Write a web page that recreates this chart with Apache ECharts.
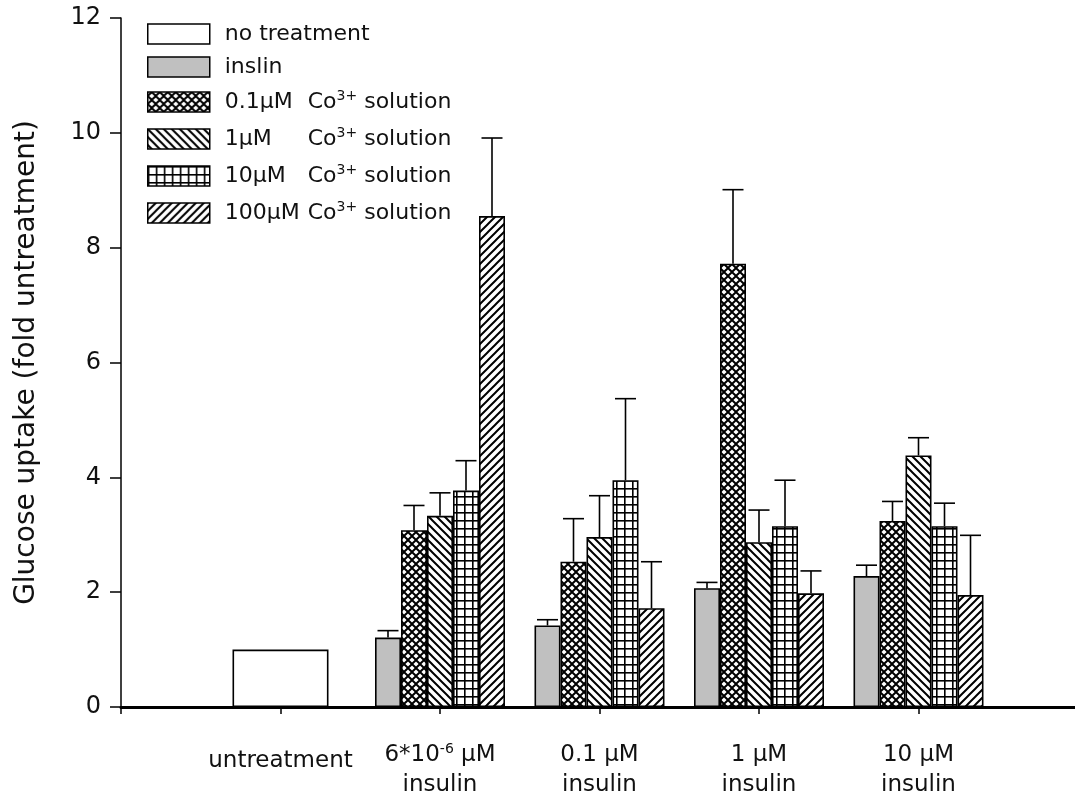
<!DOCTYPE html>
<html>
<head>
<meta charset="utf-8">
<script src="https://cdn.jsdelivr.net/npm/echarts@6/dist/echarts.min.js"></script>
<style>
html,body{margin:0;padding:0;background:#fff;}
#chart{width:1075px;height:798px;}
</style>
</head>
<body>
<div id="chart"></div>
<script>
// ---- data ----
const categories = ['', 'untreatment', '6*10^-6 μM insulin', '0.1 μM insulin', '1 μM insulin', '10 μM insulin', ''];
const groupIndex = [2, 3, 4, 5];           // category positions of the insulin groups
const untreatedValue = 1.0;
const insulinValues = [1.21, 1.42, 2.07, 2.28];
const insulinErrors = [0.12, 0.10, 0.10, 0.19];
const co01Values = [3.08, 2.53, 7.72, 3.24];
const co01Errors = [0.43, 0.75, 1.29, 0.34];
const co1Values = [3.33, 2.96, 2.87, 4.38];
const co1Errors = [0.40, 0.72, 0.56, 0.31];
const co10Values = [3.77, 3.95, 3.15, 3.15];
const co10Errors = [0.52, 1.42, 0.80, 0.40];
const co100Values = [8.55, 1.72, 1.98, 1.95];
const co100Errors = [1.36, 0.81, 0.39, 1.04];
const seriesNames = ['no treatment', 'inslin', '0.1μM Co3+ solution', '1μM Co3+ solution', '10μM Co3+ solution', '100μM Co3+ solution'];
const yTicks = [0, 2, 4, 6, 8, 10, 12];

// ---- styling helpers ----
const FONT = 'DejaVu Sans';
const BAR_W = 26;
const CAP = 10.5;

function tile(draw) {
  const c = document.createElement('canvas');
  c.width = 8; c.height = 8;
  const g = c.getContext('2d');
  g.fillStyle = '#fff'; g.fillRect(0, 0, 8, 8);
  draw(g);
  return { image: c, repeat: 'repeat' };
}
const patCross = tile(g => {
  g.fillStyle = '#000'; g.fillRect(0, 0, 8, 8);
  g.fillStyle = '#fff';
  const dia = (cx, cy, r) => { g.beginPath(); g.moveTo(cx, cy - r); g.lineTo(cx + r, cy); g.lineTo(cx, cy + r); g.lineTo(cx - r, cy); g.closePath(); g.fill(); };
  dia(4, 4, 2.6); dia(0, 0, 2.6); dia(8, 0, 2.6); dia(0, 8, 2.6); dia(8, 8, 2.6);
});
const patBack = tile(g => {
  g.strokeStyle = '#000'; g.lineWidth = 2;
  g.beginPath(); g.moveTo(-2, -2); g.lineTo(10, 10); g.moveTo(-2, 6); g.lineTo(2, 10); g.moveTo(6, -2); g.lineTo(10, 2); g.stroke();
});
const patGrid = tile(g => {
  g.fillStyle = '#000'; g.fillRect(0, 0, 1.6, 8); g.fillRect(0, 0, 8, 1.6);
});
const patFwd = tile(g => {
  g.strokeStyle = '#000'; g.lineWidth = 2;
  g.beginPath(); g.moveTo(-2, 10); g.lineTo(10, -2); g.moveTo(-2, 2); g.lineTo(2, -2); g.moveTo(6, 10); g.lineTo(10, 6); g.stroke();
});

function pad(vals) {
  const arr = categories.map(() => null);
  groupIndex.forEach((ci, i) => { arr[ci] = vals[i]; });
  return arr;
}
const fills = ['#ffffff', '#c0c0c0', patCross, patBack, patGrid, patFwd];
const groupVals = [insulinValues, co01Values, co1Values, co10Values, co100Values];
const groupErrs = [insulinErrors, co01Errors, co1Errors, co10Errors, co100Errors];

const errData = [];
groupVals.forEach((vals, k) => {
  vals.forEach((v, i) => errData.push([groupIndex[i], v, groupErrs[k][i], k]));
});

const barStyle = (fill) => ({ color: fill, borderColor: '#000', borderWidth: 1.6 });

const series = [
  {
    name: seriesNames[0], type: 'bar', xAxisIndex: 1, barWidth: 96,
    data: categories.map((c, i) => i === 1 ? untreatedValue : null),
    itemStyle: barStyle(fills[0]), emphasis: { disabled: true }
  }
];
groupVals.forEach((vals, k) => {
  series.push({
    name: seriesNames[k + 1], type: 'bar', xAxisIndex: 0, barWidth: BAR_W, barGap: '0%',
    data: pad(vals), itemStyle: barStyle(fills[k + 1]), emphasis: { disabled: true }
  });
});
series.push({
  name: 'error', type: 'custom', xAxisIndex: 0, z: 5, silent: true,
  encode: { x: 0, y: [1, 2] },
  data: errData,
  renderItem(params, api) {
    const cat = api.value(0), val = api.value(1), err = api.value(2), k = api.value(3);
    const base = api.coord([cat, val]);
    const top = api.coord([cat, val + err]);
    const x = base[0] + (k - 2) * BAR_W;
    const st = { stroke: '#000', lineWidth: 1.6 };
    return { type: 'group', children: [
      { type: 'line', shape: { x1: x, y1: base[1], x2: x, y2: top[1] }, style: st },
      { type: 'line', shape: { x1: x - CAP, y1: top[1], x2: x + CAP, y2: top[1] }, style: st }
    ]};
  }
});

const supRich = { fontFamily: FONT, fontSize: 14, lineHeight: 14, padding: [0, 0, 12, 0], color: '#111' };

const chart = echarts.init(document.getElementById('chart'), null, { renderer: 'canvas' });
chart.setOption({
  animation: false,
  backgroundColor: '#fff',
  grid: { left: 121, top: 18, width: 957, height: 689, containLabel: false, outerBoundsMode: 'none' },
  legend: {
    orient: 'vertical', left: 142, top: 18,
    icon: 'rect',
    itemWidth: 62, itemHeight: 20, itemGap: 11,
    selectedMode: false,
    data: seriesNames,
    itemStyle: { borderColor: '#000', borderWidth: 1.5 },
    formatter(name) {
      const m = name.match(/^(\S+) Co3\+ solution$/);
      if (m) return '{c|' + m[1] + '}{b|Co}{s|3+}{d| solution}';
      return '{a|' + name + '}';
    },
    textStyle: {
      fontFamily: FONT, fontSize: 22, color: '#111',
      rich: {
        a: { fontFamily: FONT, fontSize: 22, lineHeight: 26, padding: [0, 0, 0, 10], color: '#111' },
        c: { fontFamily: FONT, fontSize: 22, lineHeight: 26, width: 83, padding: [0, 0, 0, 10], color: '#111' },
        b: { fontFamily: FONT, fontSize: 22, lineHeight: 26, color: '#111' },
        s: supRich,
        d: { fontFamily: FONT, fontSize: 22, lineHeight: 26, color: '#111' }
      }
    }
  },
  xAxis: [
    {
      type: 'category', data: categories, boundaryGap: false,
      axisLine: { show: true, lineStyle: { color: '#000', width: 3 } },
      axisTick: { show: true, length: 7, lineStyle: { color: '#000', width: 1.5 } },
      splitLine: { show: false },
      axisLabel: {
        interval: 0, margin: 33, verticalAlign: 'top',
        fontFamily: FONT, fontSize: 23, lineHeight: 30, color: '#111',
        formatter(v) {
          if (!v) return '';
          if (v === 'untreatment') return '{u|untreatment}';
          const m = v.match(/^(.*) insulin$/);
          let head = m[1];
          if (head.indexOf('^') >= 0) {
            const p = head.match(/^(\S+)\^(\S+) (.*)$/);
            return '{n|' + p[1] + '}{s|' + p[2] + '}{n| ' + p[3] + '}\n{n|insulin}';
          }
          return '{n|' + head + '}\n{n|insulin}';
        },
        rich: {
          n: { fontFamily: FONT, fontSize: 23, lineHeight: 30, color: '#111' },
          u: { fontFamily: FONT, fontSize: 23, lineHeight: 30, padding: [13, 0, 0, 0], color: '#111' },
          s: supRich
        }
      }
    },
    { type: 'category', data: categories, boundaryGap: false, show: false }
  ],
  yAxis: {
    type: 'value', min: 0, max: 12, interval: 2,
    name: 'Glucose uptake (fold untreatment)',
    nameLocation: 'middle', nameRotate: 90, nameGap: 80,
    nameTextStyle: { fontFamily: FONT, fontSize: 28, color: '#111' },
    axisLine: { show: true, lineStyle: { color: '#000', width: 1.5 } },
    axisTick: { show: true, length: 11, lineStyle: { color: '#000', width: 1.5 } },
    splitLine: { show: false },
    axisLabel: {
      margin: 20, fontFamily: FONT, fontSize: 24, color: '#111',
      formatter(v) { return yTicks.indexOf(v) >= 0 ? String(v) : ''; }
    }
  },
  series
});
</script>
</body>
</html>
